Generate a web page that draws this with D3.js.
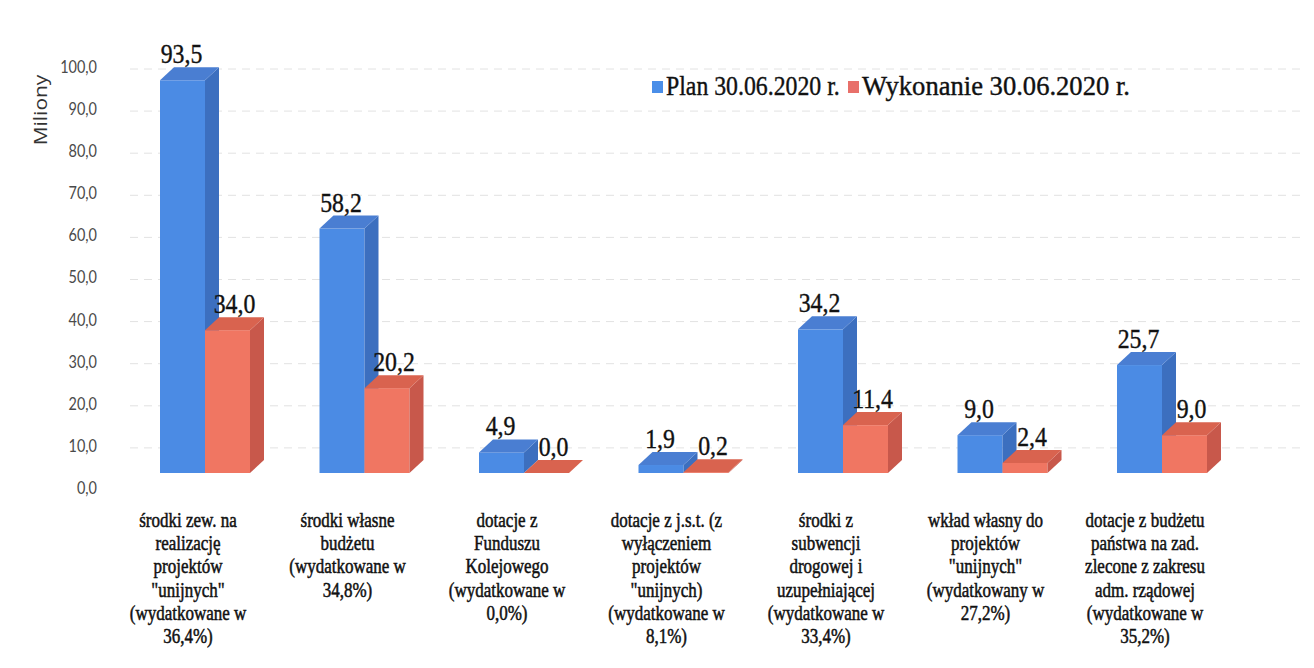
<!DOCTYPE html>
<html>
<head>
<meta charset="utf-8">
<script src="https://cdn.jsdelivr.net/npm/d3@7"></script>
<style>
  body { margin: 0; background: #fff; }
  svg { display: block; }
</style>
</head>
<body>
<div class="canvas"></div>
<script>
// dane
const categories = [
  'środki zew. na\nrealizację\nprojektów\n"unijnych"\n(wydatkowane w\n36,4%)',
  'środki własne\nbudżetu\n(wydatkowane w\n34,8%)',
  'dotacje z\nFunduszu\nKolejowego\n(wydatkowane w\n0,0%)',
  'dotacje z j.s.t. (z\nwyłączeniem\nprojektów\n"unijnych)\n(wydatkowane w\n8,1%)',
  'środki z\nsubwencji\ndrogowej i\nuzupełniającej\n(wydatkowane w\n33,4%)',
  'wkład własny do\nprojektów\n"unijnych"\n(wydatkowany w\n27,2%)',
  'dotacje z budżetu\npaństwa na zad.\nzlecone z zakresu\nadm. rządowej\n(wydatkowane w\n35,2%)'
];
const seriesNames = ['Plan 30.06.2020 r.', 'Wykonanie 30.06.2020 r.'];
const planValues = [93.5, 58.2, 4.9, 1.9, 34.2, 9.0, 25.7];
const execValues = [34.0, 20.2, 0.0, 0.2, 11.4, 2.4, 9.0];
const yTicks = [0, 10, 20, 30, 40, 50, 60, 70, 80, 90, 100];
const axisTitle = 'Miliony';

const width = 1314, height = 668;
const svg = d3.select('.canvas')
  .append('svg')
  .attr('width', width)
  .attr('height', height);

const fmt = v => v.toFixed(1).replace('.', ',');
const squeeze = 0.85; // tekst w oryginale jest zwężony
const serif = "'Liberation Serif', 'Times New Roman', Tinos";
const sans = "Lato, 'Open Sans', 'Liberation Sans'";

// kolory (front, bok, góra)
const colors = {
  [seriesNames[0]]: { front: '#4b8be4', side: '#3c6fbf', top: '#4a7ed2', legend: '#4a8ee8', labelShift: -1 },
  [seriesNames[1]]: { front: '#f07662', side: '#c8584b', top: '#d9634f', legend: '#e8706a', labelShift: 7 }
};

// skale
const x = d3.scaleBand()
  .domain(categories)
  .range([120, 120 + 7 * 159.5]);
const xs = d3.scaleBand()
  .domain(seriesNames)
  .range([40, 130]);
const yFront = d3.scaleLinear().domain([0, 100]).range([473, 53]);
const yBack = d3.scaleLinear().domain([0, 100]).range([488, 67]);
const depthX = 14, depthY = -13;

// linie siatki
svg.append('g')
  .selectAll('line')
  .data(yTicks.filter(d => d > 0))
  .enter().append('line')
  .attr('x1', 130).attr('x2', 1300)
  .attr('y1', d => yBack(d) + 2).attr('y2', d => yBack(d) + 2)
  .attr('stroke', '#e2e2e2')
  .attr('stroke-width', 1)
  .attr('stroke-dasharray', '8,6');

// oś Y
const yAxisGroup = svg.append('g')
  .attr('transform', 'translate(97, 0)')
  .call(d3.axisLeft(yBack).tickValues(yTicks).tickFormat(fmt).tickSize(0).tickPadding(0));
yAxisGroup.select('.domain').remove();
yAxisGroup.selectAll('text')
  .style('font-family', sans)
  .style('font-size', '17px')
  .attr('fill', '#4a4a4a')
  .attr('transform', `scale(${squeeze},1)`);

svg.append('text')
  .attr('transform', 'translate(47, 110) rotate(-90) scale(1,0.85)')
  .attr('text-anchor', 'middle')
  .style('font-family', "'Open Sans', 'Liberation Sans'")
  .style('font-size', '21px')
  .attr('fill', '#333')
  .text(axisTitle);

// słupki 3D
const rows = [];
categories.forEach((c, i) => {
  rows.push({ cat: c, series: seriesNames[0], value: planValues[i] });
  rows.push({ cat: c, series: seriesNames[1], value: execValues[i] });
});

const bars = svg.append('g')
  .selectAll('g')
  .data(rows)
  .enter().append('g');

const w = xs.bandwidth();
const y0 = yFront(0);

bars.append('rect')
  .attr('x', d => x(d.cat) + xs(d.series))
  .attr('y', d => yFront(d.value))
  .attr('width', w)
  .attr('height', d => y0 - yFront(d.value))
  .attr('fill', d => colors[d.series].front);

bars.append('path')
  .attr('d', d => {
    const bx = x(d.cat) + xs(d.series) + w, ty = yFront(d.value);
    return `M${bx},${ty}L${bx + depthX},${ty + depthY}L${bx + depthX},${y0 + depthY}L${bx},${y0}Z`;
  })
  .attr('fill', d => colors[d.series].side);

bars.append('path')
  .attr('d', d => {
    const bx = x(d.cat) + xs(d.series), ty = yFront(d.value);
    return `M${bx},${ty}L${bx + depthX},${ty + depthY}L${bx + w + depthX},${ty + depthY}L${bx + w},${ty}Z`;
  })
  .attr('fill', d => colors[d.series].top);

// etykiety wartości
bars.append('text')
  .attr('transform', d => `translate(${x(d.cat) + xs(d.series) + w / 2 + colors[d.series].labelShift}, ${yFront(d.value) + depthY - 4}) scale(${squeeze},1)`)
  .attr('text-anchor', 'middle')
  .style('font-family', serif)
  .style('font-size', '28px')
  .attr('fill', '#111')
  .attr('stroke', '#111')
  .attr('stroke-width', 0.4)
  .text(d => fmt(d.value));

// etykiety kategorii
const catLabels = svg.append('g')
  .selectAll('text')
  .data(categories)
  .enter().append('text')
  .attr('transform', d => `translate(${x(d) + 68}, 527) scale(${squeeze},1)`)
  .attr('text-anchor', 'middle')
  .style('font-family', serif)
  .style('font-size', '20px')
  .attr('fill', '#111')
  .attr('stroke', '#111')
  .attr('stroke-width', 0.5);

catLabels.selectAll('tspan')
  .data(d => d.split('\n'))
  .enter().append('tspan')
  .attr('x', 0)
  .attr('dy', (d, i) => i === 0 ? 0 : 23.2)
  .text(d => d);

// legenda
const legendX = [652, 848];
const legendScale = [0.85, 0.95];
const legend = svg.append('g')
  .selectAll('g')
  .data(seriesNames)
  .enter().append('g')
  .attr('transform', (d, i) => `translate(${legendX[i]}, 81)`);

legend.append('rect')
  .attr('width', 11).attr('height', 12)
  .attr('fill', d => colors[d].legend);

legend.append('text')
  .attr('transform', (d, i) => `translate(14, 14) scale(${legendScale[i]},1)`)
  .style('font-family', serif)
  .style('font-size', '28px')
  .attr('fill', '#111')
  .attr('stroke', '#111')
  .attr('stroke-width', 0.4)
  .text(d => d);
</script>
</body>
</html>
